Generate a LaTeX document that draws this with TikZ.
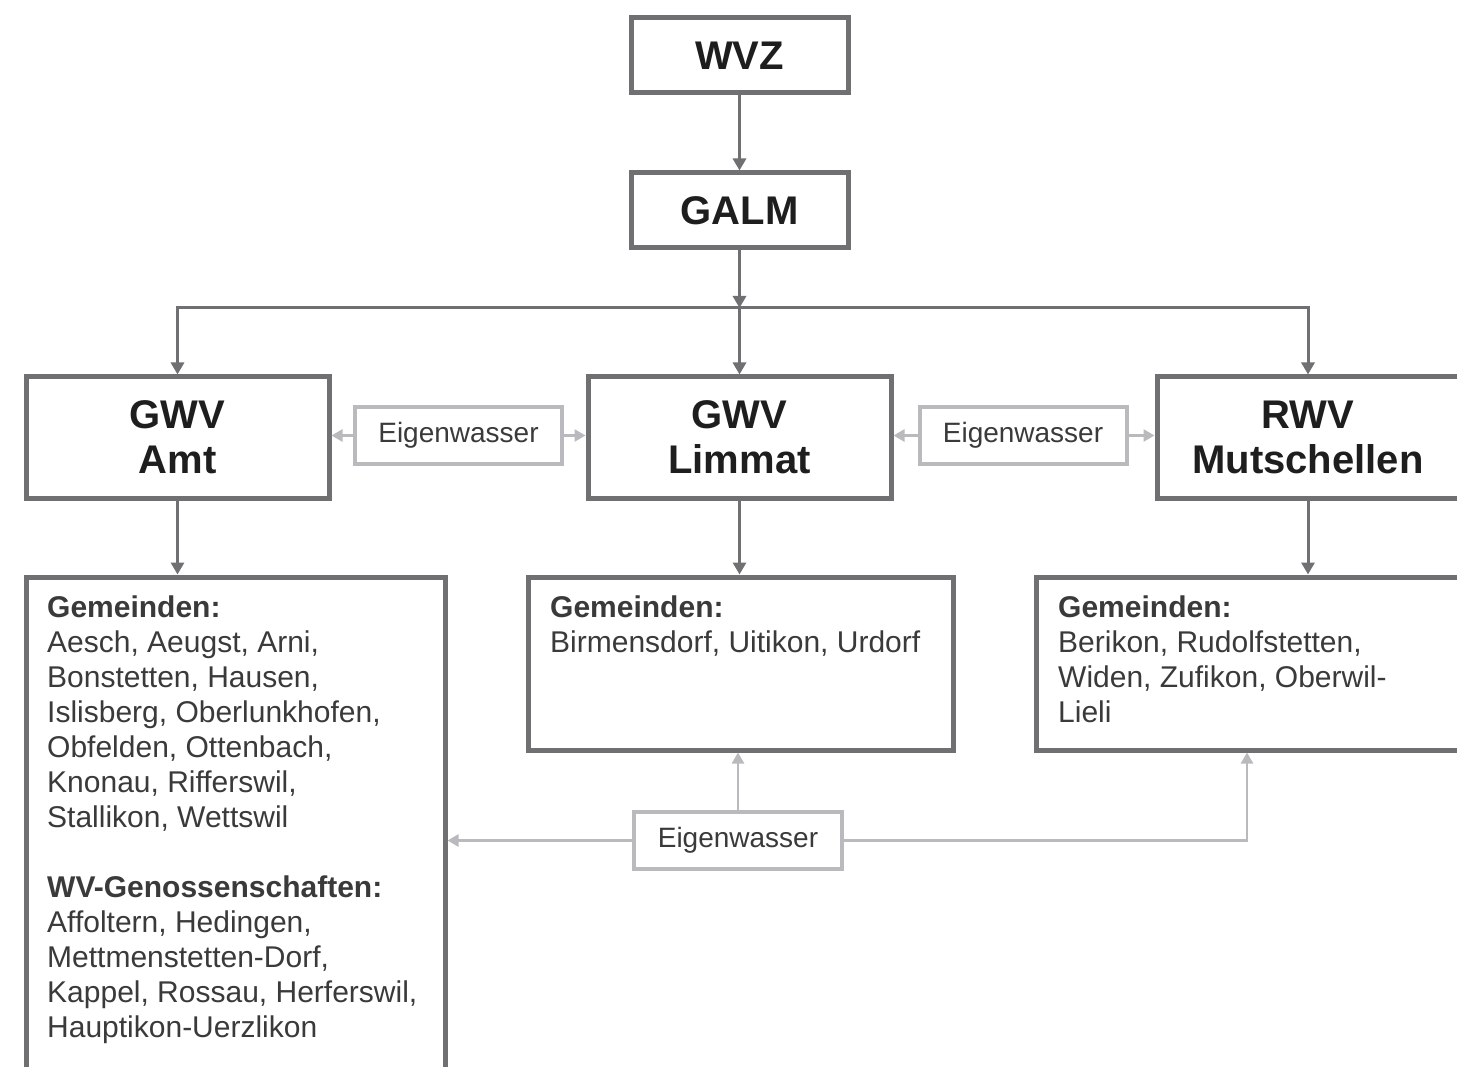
\documentclass[tikz,border=0pt]{standalone}
\usepackage{fontspec}
\setmainfont{Liberation Sans}
\usetikzlibrary{arrows.meta}
\definecolor{darkb}{RGB}{112,112,115}
\definecolor{lightb}{RGB}{186,186,190}
\definecolor{txtd}{RGB}{30,30,30}
\definecolor{txtl}{RGB}{58,58,58}
\begin{document}
\begin{tikzpicture}[x=1pt,y=-1pt,
  mainbox/.style={draw=darkb,line width=5pt,fill=white,inner sep=0pt,
    text=txtd,font=\fontsize{40}{45}\selectfont\bfseries,align=center},
  eigbox/.style={draw=lightb,line width=4pt,fill=white,inner sep=0pt,
    text=txtl,font=\fontsize{28}{34}\selectfont,minimum width=207pt,minimum height=57pt},
  listbox/.style={draw=darkb,line width=5pt,fill=white,inner sep=0pt},
  listtext/.style={anchor=north west,inner sep=0pt,align=left,text=txtl,
    font=\fontsize{30}{35}\selectfont},
  darr/.style={draw=darkb,line width=3pt,-{Triangle[width=13pt,length=12pt]}},
  dline/.style={draw=darkb,line width=3pt},
  larr/.style={draw=lightb,line width=2.5pt,-{Triangle[width=12pt,length=11pt]}},
  lline/.style={draw=lightb,line width=2.5pt}]
\clip (0,0) rectangle (1457,1067);
\fill[white] (0,0) rectangle (1457,1067);

% top boxes
\node[mainbox,minimum width=217pt,minimum height=75pt] (wvz) at (739.5,55.5) {WVZ};
\node[mainbox,minimum width=217pt,minimum height=75pt] (galm) at (739.5,210.5) {GALM};

% second row
\node[mainbox,minimum width=303pt,minimum height=121pt] (amt) at (177.5,437.5) {GWV\\Amt};
\node[mainbox,minimum width=303pt,minimum height=121pt] (lim) at (739.5,437.5) {GWV\\Limmat};
\node[mainbox,minimum width=302pt,minimum height=121pt] (rwv) at (1308,437.5) {RWV\\Mutschellen};

% Eigenwasser boxes
\node[eigbox] (eig1) at (458.5,435.5) {Eigenwasser};
\node[eigbox] (eig2) at (1023,435.5) {Eigenwasser};
\node[eigbox,minimum width=208pt] (eig3) at (738,840.5) {Eigenwasser};

% list boxes
\node[listbox,minimum width=419pt,minimum height=523pt] (amtbox) at (235.5,838.5) {};
\node[listbox,minimum width=425pt,minimum height=173pt] (limbox) at (740.5,663.5) {};
\node[listbox,minimum width=434pt,minimum height=173pt] (rwvbox) at (1253,663.5) {};

\node[listtext] (amttxt) at (47,596) {\textbf{Gemeinden:}\\
Aesch, Aeugst, Arni,\\
Bonstetten, Hausen,\\
Islisberg, Oberlunkhofen,\\
Obfelden, Ottenbach,\\
Knonau, Rifferswil,\\
Stallikon, Wettswil\\[35pt]
\textbf{WV-Genossenschaften:}\\
Affoltern, Hedingen,\\
Mettmenstetten-Dorf,\\
Kappel, Rossau, Herferswil,\\
Hauptikon-Uerzlikon};
\node[listtext] (limtxt) at (550,596) {\textbf{Gemeinden:}\\
Birmensdorf, Uitikon, Urdorf};
\node[listtext] (rwvtxt) at (1058,596) {\textbf{Gemeinden:}\\
Berikon, Rudolfstetten,\\
Widen, Zufikon, Oberwil-\\
Lieli};

% coordinates
\coordinate (barm) at (739.5,308);
\coordinate (rwvin) at (1247,752.5);

% dark connectors
\draw[darr] (wvz) -- (galm);
\draw[darr] (galm) -- (barm);
\draw[darr] (barm) -| (amt.north);
\draw[darr] (barm) -| (rwv.north);
\draw[darr] (barm) -- (lim.north);
\draw[darr] (amt.south) -- (amt.south |- amtbox.north);
\draw[darr] (lim.south) -- (lim.south |- limbox.north);
\draw[darr] (rwv.south) -- (rwv.south |- rwvbox.north);

% light connectors
\draw[larr] (eig1.west) -- (amt.east |- eig1.west);
\draw[larr] (eig1.east) -- (lim.west |- eig1.east);
\draw[larr] (eig2.west) -- (lim.east |- eig2.west);
\draw[larr] (eig2.east) -- (rwv.west |- eig2.east);
\draw[larr] (eig3.north) -- (eig3.north |- limbox.south);
\draw[larr] (eig3.west) -- (eig3.west -| amtbox.east);
\draw[larr] (eig3.east) -| (rwvin);
\end{tikzpicture}
\end{document}
